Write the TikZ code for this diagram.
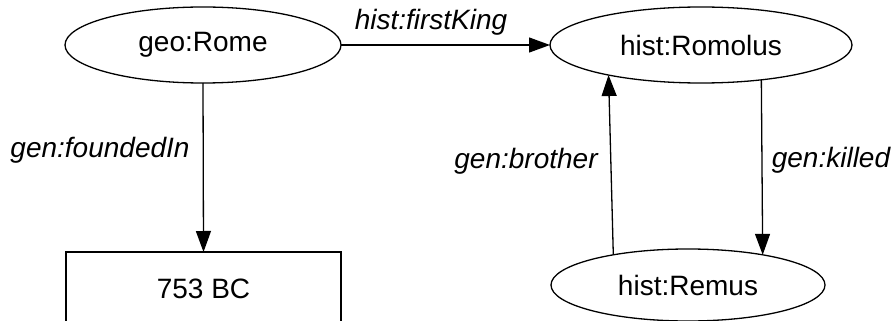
\documentclass[tikz,border=0pt]{standalone}
\usepackage{fontspec}
\setmainfont{Liberation Sans}
\usetikzlibrary{arrows.meta,shapes.geometric}
\begin{document}
\begin{tikzpicture}[x=1pt,y=-1pt,
  every node/.style={font=\fontsize{28}{34}\selectfont, inner sep=0pt, outer sep=0pt},
  res/.style={ellipse, draw, line width=1.3pt},
  lit/.style={rectangle, draw, line width=1.3pt},
  rel/.style={font=\fontsize{28}{34}\selectfont\itshape},
  arr/.style={draw, line width=1.3pt, -{Triangle[length=21pt,width=15pt]}}]
  \useasboundingbox (0,0) rectangle (894,321);
  \clip (0,0) rectangle (894,321);

  % resources and literal
  \node[res, minimum width=276pt, minimum height=76pt] (rome) at (203,45) {geo:Rome};
  \node[res, minimum width=302pt, minimum height=76pt] (romolus) at (701,45) {hist:Romolus};
  \node[res, minimum width=274pt, minimum height=72pt] (remus) at (688,285) {hist:Remus};
  \node[lit, minimum width=275pt, minimum height=74pt] (year) at (203.5,289) {753 BC};

  % properties
  \draw[arr] (rome.east) -- (romolus.west);
  \draw[arr] (rome.south) -- (year.north);
  \draw[arr] (remus.158.5) -- (romolus.198.4);
  \draw[arr] (romolus.330.3) -- (remus.22.3);

  % property labels
  \node[rel] (lfirst) at (431,22) {hist:firstKing};
  \node[rel] (lfound) at (100,150) {gen:foundedIn};
  \node[rel] (lbro) at (526,161) {gen:brother};
  \node[rel] (lkill) at (831,160) {gen:killed};
\end{tikzpicture}
\end{document}
